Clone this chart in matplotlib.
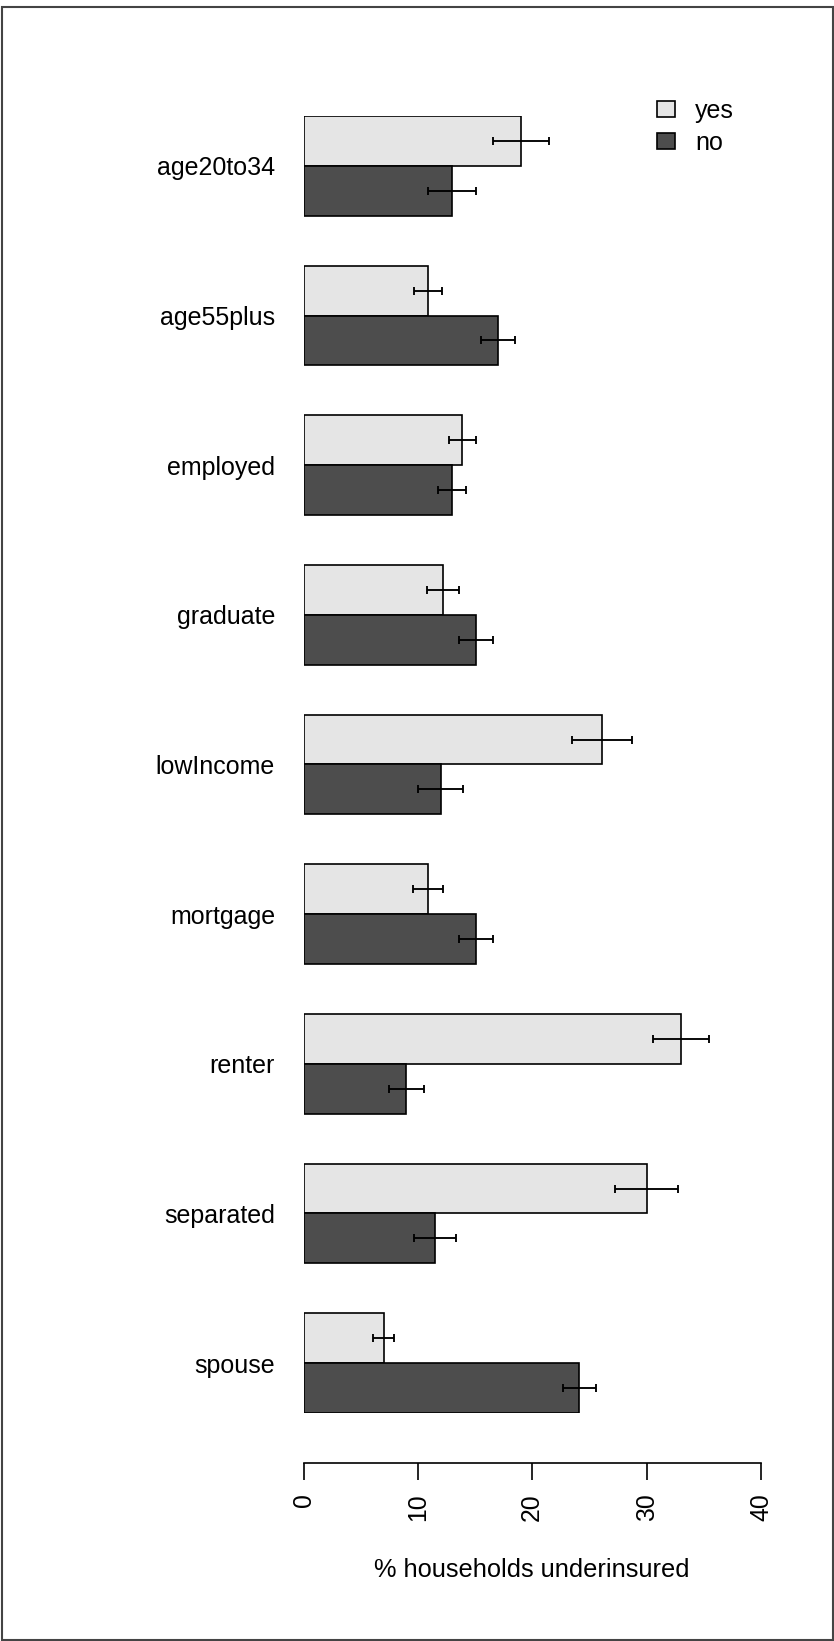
import matplotlib
matplotlib.use("Agg")
import matplotlib.pyplot as plt
from matplotlib.patches import Rectangle
import numpy as np

plt.rcParams['font.family'] = ['Liberation Sans', 'DejaVu Sans']

categories = ["age20to34", "age55plus", "employed", "graduate", "lowIncome",
              "mortgage", "renter", "separated", "spouse"]
yes_pct = [19.0, 10.9, 13.9, 12.2, 26.1, 10.9, 33.0, 30.0, 7.0]
yes_err = [2.45, 1.2, 1.2, 1.4, 2.65, 1.3, 2.45, 2.75, 0.95]
no_pct = [13.0, 17.0, 13.0, 15.1, 12.0, 15.1, 9.0, 11.5, 24.1]
no_err = [2.1, 1.45, 1.2, 1.5, 1.95, 1.5, 1.5, 1.8, 1.45]
series_labels = ["yes", "no"]
x_ticks = [0, 10, 20, 30, 40]
x_label = "% households underinsured"

W, H = 834, 1641
dpi = 100
fig = plt.figure(figsize=(W / dpi, H / dpi), dpi=dpi)

left_px, right_px = 303.5, 761.0
top_px, bot_px = 116.0, 1413.0
ax = fig.add_axes([left_px / W, 1 - bot_px / H, (right_px - left_px) / W, (bot_px - top_px) / H])

n = len(categories)
idx = np.arange(n)
y_yes = 3 * idx + 0.5
y_no = 3 * idx + 1.5

lw = 1.2
b1 = ax.barh(y_yes, yes_pct, height=1.0, color="#e5e5e5", edgecolor="black", linewidth=lw,
             label=series_labels[0])
b2 = ax.barh(y_no, no_pct, height=1.0, color="#4d4d4d", edgecolor="black", linewidth=lw,
             label=series_labels[1])
ax.errorbar(yes_pct, y_yes, xerr=yes_err, fmt="none", ecolor="black", elinewidth=1.35,
            capsize=3.0, capthick=1.35)
ax.errorbar(no_pct, y_no, xerr=no_err, fmt="none", ecolor="black", elinewidth=1.35,
            capsize=3.0, capthick=1.35)

ax.set_xlim(0, 40)
ax.set_ylim(26, 0)

for s in ["left", "top", "right"]:
    ax.spines[s].set_visible(False)
ax.spines["bottom"].set_position(("outward", 36))
ax.spines["bottom"].set_bounds(0, 40)
ax.spines["bottom"].set_linewidth(1.2)

ax.set_xticks(x_ticks)
ax.set_xticklabels([str(t) for t in x_ticks], rotation=90, fontsize=17.8)
ax.tick_params(axis="x", length=12, width=1.2, pad=10, colors="black")

ax.set_yticks(3 * idx + 1)
ax.set_yticklabels(categories, fontsize=18)
ax.tick_params(axis="y", length=0, pad=20.5)

ax.set_xlabel(x_label, fontsize=18.3)
ax.xaxis.set_label_coords(0.5, -(1558 - bot_px) / (bot_px - top_px))

leg = fig.legend(handles=[b1, b2], labels=series_labels, loc="upper left",
                 bbox_to_anchor=(657 / W, 1 - 99 / H), frameon=False, fontsize=18,
                 handlelength=0.72, handleheight=0.6, handletextpad=0.8,
                 labelspacing=0.32, borderpad=0, borderaxespad=0)

fig.patches.append(Rectangle((2.3 / W, 1.0 / H), (832.5 - 2.3) / W, (1641 - 6.7 - 1.0) / H,
                             transform=fig.transFigure, fill=False, edgecolor="#444444",
                             linewidth=1.5))

fig.savefig("out.png", dpi=dpi)
